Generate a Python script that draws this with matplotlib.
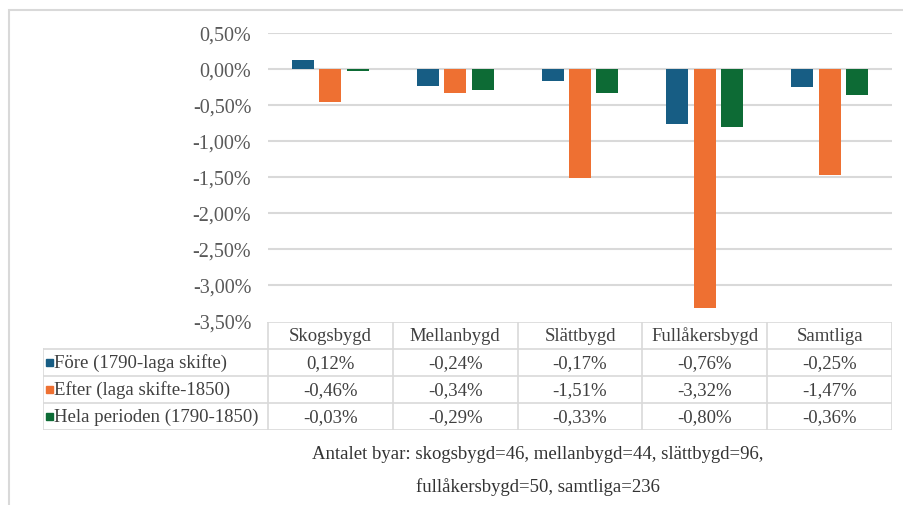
import matplotlib
matplotlib.use("Agg")
from matplotlib import pyplot as plt
from matplotlib.patches import Rectangle

categories = ["Skogsbygd", "Mellanbygd", "Slättbygd", "Fullåkersbygd", "Samtliga"]
series_names = ["Före (1790-laga skifte)", "Efter (laga skifte-1850)", "Hela perioden (1790-1850)"]
fore = [0.12, -0.24, -0.17, -0.76, -0.25]
efter = [-0.46, -0.34, -1.51, -3.32, -1.47]
hela = [-0.03, -0.29, -0.33, -0.80, -0.36]
yticks = [0.5, 0.0, -0.5, -1.0, -1.5, -2.0, -2.5, -3.0, -3.5]
caption = "Antalet byar: skogsbygd=46, mellanbygd=44, slättbygd=96,\nfullåkersbygd=50, samtliga=236"

colors = ["#175d84", "#ee7032", "#0d6b35"]
grid_c = "#d9d9d9"
text_c = "#404040"

plt.rcParams["font.family"] = ["Liberation Serif", "DejaVu Serif"]

W, H = 904, 506
fig = plt.figure(figsize=(W / 100, H / 100), dpi=100)

def px(l, t, r, b):
    # pixel box -> figure fraction rect
    return [l / W, 1 - b / H, (r - l) / W, (b - t) / H]

# outer frame
fig.patches.append(Rectangle((9 / W, -0.1), 1.2, 1 - 11 / H + 0.1, transform=fig.transFigure,
                             fill=False, edgecolor=grid_c, linewidth=1.5))

# bar chart
ax = fig.add_axes(px(268, 34, 892, 322))
xs = range(len(categories))
w = 0.176
off = 0.22
for k, vals in enumerate([fore, efter, hela]):
    ax.bar([x + (k - 1) * off for x in xs], vals, w, color=colors[k], zorder=3)
ax.set_xlim(-0.5, len(categories) - 0.5)
ax.set_ylim(-3.5, 0.5)
ax.set_yticks(yticks)
ax.set_yticklabels([("%.2f%%" % v).replace(".", ",") for v in yticks], fontsize=14.5, color="#595959")
ax.set_xticks([])
ax.tick_params(axis="y", length=0, pad=12)
for y in yticks[:-1]:
    ax.axhline(y, color=grid_c, linewidth=1.5, zorder=1)
for s in ax.spines.values():
    s.set_visible(False)
ax.patch.set_alpha(0)

# data table underneath
leg_w = (268 - 43) / 124.8
tab = fig.add_axes(px(43, 323, 892, 431))
tab.set_xlim(-0.5 - leg_w, len(categories) - 0.5)
tab.set_ylim(4, 0)
tab.axis("off")
lw = 1.2
x0 = -0.5 - leg_w
x1 = len(categories) - 0.5
tab.plot([-0.5, x1], [0, 0], color=grid_c, lw=lw)
for r in range(1, 5):
    tab.plot([x0, x1], [r, r], color=grid_c, lw=lw)
tab.plot([x0, x0], [1, 4], color=grid_c, lw=lw)
for c in range(len(categories) + 1):
    tab.plot([c - 0.5, c - 0.5], [0, 4], color=grid_c, lw=lw)
for i, cat in enumerate(categories):
    tab.text(i, 0.5, cat, ha="center", va="center", fontsize=13.5, color=text_c)
for k, vals in enumerate([fore, efter, hela]):
    row = k + 1.5
    # legend key: small square, 7 px
    row_px = 323 + (431 - 323) * row / 4
    fig.patches.append(Rectangle((46 / W, 1 - (row_px + 3.5) / H), 7 / W, 7 / H,
                                 transform=fig.transFigure, color=colors[k]))
    tab.text(x0 + 0.09, row, series_names[k], ha="left", va="center", fontsize=13.5, color=text_c)
    for i, v in enumerate(vals):
        tab.text(i, row, ("%.2f%%" % v).replace(".", ","), ha="center", va="center",
                 fontsize=13.5, color=text_c)

fig.text(538 / W, 1 - 471 / H, caption, ha="center", va="center", fontsize=13.5,
         color="#333333", linespacing=2.05)

fig.savefig("out.png", dpi=100)
